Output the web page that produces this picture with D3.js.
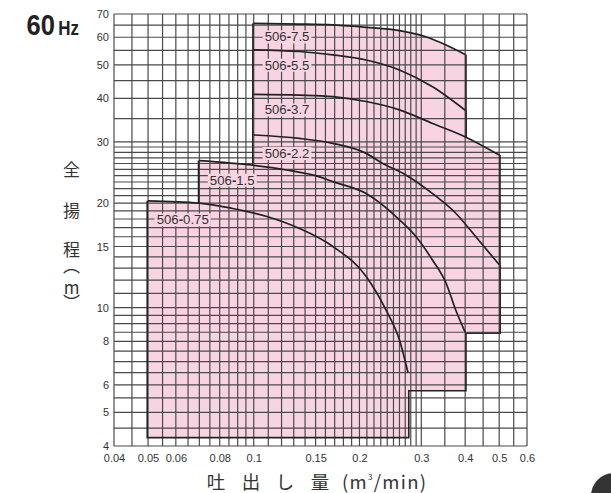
<!DOCTYPE html>
<html>
<head>
<meta charset="utf-8">
<script src="https://cdn.jsdelivr.net/npm/d3@7"></script>
<style>
  body { margin: 0; background: #fff; }
  svg { display: block; }
</style>
</head>
<body>
<svg id="chart" width="611" height="493"></svg>
<script>
// Axis tick labels
const xTicks = [0.04, 0.05, 0.06, 0.08, 0.1, 0.15, 0.2, 0.3, 0.4, 0.5, 0.6];
const yTicks = [4, 5, 6, 8, 10, 15, 20, 30, 40, 50, 60, 70];

// Graph-paper rulings
const xGrid = [0.04, 0.045, 0.05, 0.055, 0.06, 0.065, 0.07, 0.075, 0.08, 0.085, 0.09, 0.095,
  0.1, 0.11, 0.12, 0.13, 0.14, 0.15, 0.16, 0.17, 0.18, 0.19, 0.2, 0.21, 0.22, 0.23, 0.24,
  0.25, 0.26, 0.27, 0.28, 0.29, 0.3, 0.35, 0.4, 0.45, 0.5, 0.55, 0.6];
const yGrid = [4, 4.5, 5, 5.5, 6, 6.5, 7, 7.5, 8, 8.5, 9, 9.5, 10, 11, 12, 13, 14, 15, 16, 17,
  18, 19, 20, 21, 22, 23, 24, 25, 26, 27, 28, 29, 30, 35, 40, 45, 50, 55, 60, 65, 70];

// Pump models and their Q-H curves (flow m³/min, head m)
const models = ["506-0.75", "506-1.5", "506-2.2", "506-3.7", "506-5.5", "506-7.5"];
const flow075 = [0.05, 0.07, 0.087, 0.109, 0.135, 0.168, 0.209, 0.238, 0.26, 0.275];
const head075 = [20.3, 20.0, 19.3, 18.3, 16.9, 15.0, 12.3, 9.85, 8.07, 6.5];
const flow15 = [0.07, 0.0995, 0.124, 0.154, 0.168, 0.209, 0.26, 0.29, 0.323, 0.353, 0.376, 0.4];
const head15 = [26.5, 25.7, 24.9, 23.8, 23.05, 21.3, 17.9, 16.0, 13.7, 11.76, 9.85, 8.5];
const flow22 = [0.1, 0.135, 0.168, 0.209, 0.233, 0.271, 0.323, 0.376, 0.429, 0.5];
const head22 = [31.4, 30.7, 29.7, 27.8, 26.0, 24.1, 21.3, 18.7, 16.0, 13.3];
const flow37 = [0.1, 0.135, 0.168, 0.209, 0.26, 0.323, 0.398, 0.5];
const head37 = [41.1, 40.9, 40.5, 39.2, 37.1, 33.9, 31.1, 27.5];
const flow55 = [0.1, 0.135, 0.168, 0.209, 0.26, 0.323, 0.4];
const head55 = [55.2, 54.6, 53.4, 51.6, 48.3, 43.2, 37.0];
const flow75 = [0.1, 0.135, 0.168, 0.209, 0.26, 0.309, 0.353, 0.4];
const head75 = [65.8, 65.5, 65.1, 64.1, 62.7, 60.2, 57.0, 53.5];
// Lowest head of each operating range
const minHead = [4.25, 5.8, 8.5, 8.5, 8.5, 8.5];
// Model label anchor (left flow, centre head)
const labelFlow = [0.0529, 0.075, 0.1074, 0.1074, 0.1074, 0.1074];
const labelHead = [17.9, 23.3, 27.8, 37.1, 49.9, 60.2];

const flows = [flow075, flow15, flow22, flow37, flow55, flow75];
const heads = [head075, head15, head22, head37, head55, head75];

const svg = d3.select("#chart");
const x = d3.scaleLog().domain([0.04, 0.6]).range([114, 527]);
const y = d3.scaleLog().domain([4, 70]).range([446, 14]);

const PINK = "#f8d3e1";
const INK = "#222";
const curveGen = d3.line().x(d => x(d[0])).y(d => y(d[1])).curve(d3.curveMonotoneX);

const ranges = models.map((m, i) => {
  const pts = flows[i].map((f, j) => [f, heads[i][j]]);
  const c = curveGen(pts);
  const x0 = x(pts[0][0]), x1 = x(pts[pts.length - 1][0]);
  const yb = y(minHead[i]);
  return {
    name: m,
    curve: c,
    area: `M${x0},${yb}L` + c.slice(1) + `L${x1},${yb}Z`,
    edges: `M${x1},${y(pts[pts.length - 1][1])}L${x1},${yb}L${x0},${yb}L${x0},${y(pts[0][1])}`
  };
});

// Mask that keeps only what lies outside the operating ranges
const defs = svg.append("defs");
const mask = defs.append("mask").attr("id", "outside").attr("maskUnits", "userSpaceOnUse")
  .attr("x", 0).attr("y", 0).attr("width", 611).attr("height", 493);
mask.append("rect").attr("width", 611).attr("height", 493).attr("fill", "#fff");
mask.selectAll("path").data(ranges).join("path").attr("d", d => d.area).attr("fill", "#000");

// Operating ranges
svg.append("g").selectAll("path").data(ranges).join("path")
  .attr("d", d => d.area).attr("fill", PINK).attr("stroke", "none");

// Grid
const grid = svg.append("g").attr("stroke", "#4a4a4a").attr("stroke-width", 1.2);
grid.selectAll("line.v").data(xGrid).join("line").attr("class", "v")
  .attr("x1", d => x(d)).attr("x2", d => x(d)).attr("y1", y(4)).attr("y2", y(70));
grid.selectAll("line.h").data(yGrid).join("line").attr("class", "h")
  .attr("y1", d => y(d)).attr("y2", d => y(d)).attr("x1", x(0.04)).attr("x2", x(0.6));

// Range outlines (outer edge only) and Q-H curves
svg.append("g").attr("mask", "url(#outside)").selectAll("path").data(ranges).join("path")
  .attr("d", d => d.edges).attr("fill", "none").attr("stroke", INK).attr("stroke-width", 3.2);
svg.append("g").selectAll("path").data(ranges).join("path")
  .attr("d", d => d.curve).attr("fill", "none").attr("stroke", INK).attr("stroke-width", 1.7);

// Model labels on a pink patch
const lab = svg.append("g").selectAll("g").data(models).join("g");
const labText = lab.append("text")
  .attr("x", (d, i) => x(labelFlow[i])).attr("y", (d, i) => y(labelHead[i]))
  .attr("dy", "0.35em")
  .attr("font-family", "'Liberation Sans', Arial, sans-serif").attr("font-size", 13.2)
  .attr("fill", "#333");
labText.each(function(d) {
  const [a, b] = d.split("-");
  const t = d3.select(this);
  t.append("tspan").text(a);
  t.append("tspan").attr("font-weight", "bold").text("-");
  t.append("tspan").text(b);
});
lab.each(function() {
  const g = d3.select(this);
  const bb = g.select("text").node().getBBox();
  g.insert("rect", "text").attr("x", bb.x - 2).attr("y", bb.y + 1)
    .attr("width", bb.width + 4).attr("height", bb.height - 2).attr("fill", PINK);
});

// Axes
const tickFont = g => g.selectAll("text")
  .attr("font-family", "'Liberation Sans', Arial, sans-serif").attr("font-size", 11).attr("fill", "#333");
svg.append("g").attr("transform", `translate(0,${y(4)})`)
  .call(d3.axisBottom(x).tickValues(xTicks).tickFormat(d => String(d)).tickSize(0).tickPadding(8))
  .call(g => g.select(".domain").remove())
  .call(tickFont);
svg.append("g").attr("transform", `translate(${x(0.04)},0)`)
  .call(d3.axisLeft(y).tickValues(yTicks).tickFormat(d => String(d)).tickSize(0).tickPadding(5))
  .call(g => g.select(".domain").remove())
  .call(tickFont);

// Frequency badge
const hz = svg.append("text").attr("transform", "translate(26.5,35) scale(0.85,1)")
  .attr("font-family", "'Liberation Sans', Arial, sans-serif").attr("font-weight", "bold")
  .attr("fill", "#222");
hz.append("tspan").attr("font-size", 30).text("60");
hz.append("tspan").attr("font-size", 20).attr("dx", 4).text("Hz");

// Axis titles: one text each, glyphs placed individually
const cjk = "'Noto Sans CJK JP', 'Noto Sans', sans-serif";
const yTitle = "全揚程︵m︶";
const yTitlePos = [168, 209, 248, 264, 286, 301];
svg.append("text").attr("text-anchor", "middle").attr("dominant-baseline", "central")
  .attr("font-family", cjk).attr("font-size", 17).attr("fill", "#333")
  .attr("x", yTitlePos.map(() => 71.5).join(" "))
  .attr("y", yTitlePos.join(" "))
  .text(yTitle);

const xTitle = "吐出し量";
const xTitlePos = [216, 251, 285, 320];
svg.append("text").attr("text-anchor", "middle").attr("font-family", cjk)
  .attr("font-size", 18.5).attr("fill", "#333")
  .attr("x", xTitlePos.join(" ")).attr("y", 489)
  .text(xTitle);
const unit = svg.append("text").attr("x", 342).attr("y", 489).attr("font-family", cjk)
  .attr("font-size", 18.5).attr("fill", "#333")
  .attr("textLength", 84).attr("lengthAdjust", "spacing");
unit.append("tspan").text("(m");
unit.append("tspan").attr("font-size", 8).attr("dy", -9).text("3");
unit.append("tspan").attr("dy", 9).text("/min)");

// Page tab marker
svg.append("circle").attr("cx", 614).attr("cy", 496).attr("r", 23).attr("fill", "#333");
</script>
</body>
</html>
